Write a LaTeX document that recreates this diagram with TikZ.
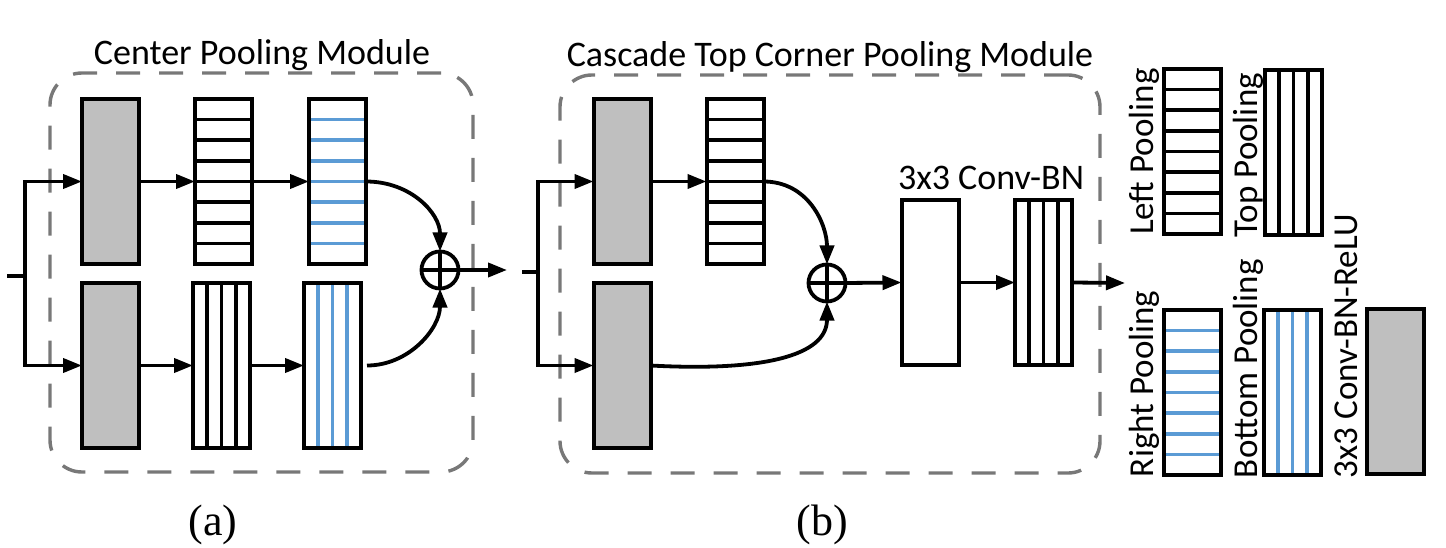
\documentclass[tikz,border=0pt]{standalone}
\usepackage{fontspec}
\setmainfont{Carlito}
\newfontfamily\capfont{Liberation Serif}
\usetikzlibrary{arrows.meta,calc}
\definecolor{poolblue}{RGB}{91,155,213}
\definecolor{boxgray}{RGB}{191,191,191}
\definecolor{framegray}{RGB}{120,120,120}
\begin{document}
\begin{tikzpicture}[x=1pt,y=-1pt,
  every node/.style={inner sep=0pt, outer sep=0pt},
  fmap/.style={draw=black, line width=4pt, minimum width=57pt, minimum height=165pt},
  graybox/.style={fmap, fill=boxgray},
  hlines/.style={path picture={\foreach \i in {1,...,7}{\draw[line width=3.6pt,#1] ($(path picture bounding box.north west)!\i/8!(path picture bounding box.south west)$) -- ($(path picture bounding box.north east)!\i/8!(path picture bounding box.south east)$);}}},
  hlines/.default=black,
  vlines/.style={path picture={\foreach \i in {1,2,3}{\draw[line width=3.6pt,#1] ($(path picture bounding box.north west)!\i/4!(path picture bounding box.north east)$) -- ($(path picture bounding box.south west)!\i/4!(path picture bounding box.south east)$);}}},
  vlines/.default=black,
  arr/.style={line width=3.8pt, -{Triangle[length=19pt,width=14pt]}},
  plain/.style={line width=3.8pt},
  oplus/.style={circle, draw, line width=3.8pt, minimum size=37pt,
    path picture={\draw[line width=3.6pt] (path picture bounding box.north) -- (path picture bounding box.south) (path picture bounding box.west) -- (path picture bounding box.east);}},
  frame/.style={draw=framegray, line width=3.4pt, dash pattern=on 24pt off 19pt, rounded corners=32pt},
  ttl/.style={font=\fontsize{36}{43}\selectfont},
  lbl/.style={font=\fontsize{35}{42}\selectfont, rotate=90, anchor=base west},
  subcap/.style={font=\capfont\fontsize{44}{52}\selectfont}
]
\useasboundingbox (0,0) rectangle (1446,548);

% frames
\node[frame, minimum width=423pt, minimum height=399pt] (modA) at (261.5,272.5) {};
\node[frame, minimum width=540pt, minimum height=398pt] (modB) at (830,274) {};
\node[ttl, anchor=base] (ttlA) at (262,65) {Center Pooling Module};
\node[ttl, anchor=base] (ttlB) at (830,67) {Cascade Top Corner Pooling Module};

% (a) boxes
\node[graybox] (ga1) at (110.5,181.5) {};
\node[fmap, hlines] (ha1) at (223.5,181.5) {};
\node[fmap, hlines=poolblue] (ba1) at (337.5,181.5) {};
\node[graybox] (ga2) at (110.5,365.5) {};
\node[fmap, vlines] (va2) at (221.5,365.5) {};
\node[fmap, vlines=poolblue] (bva2) at (332.5,365.5) {};
\node[oplus] (opa) at (440,270) {};

\coordinate (ina) at (7,276);
\coordinate (ja) at (25,276);
\coordinate (outa) at (507,270);
\draw[plain] (ina) -- (ja);
\draw[arr] (ja) |- (ga1.west);
\draw[arr] (ja) |- (ga2.west);
\draw[arr] (ga1.east) -- (ha1.west);
\draw[arr] (ha1.east) -- (ba1.west);
\draw[arr] (ga2.east) -- (va2.west);
\draw[arr] (va2.east) -- (bva2.west);
\draw[arr] (ba1.east) .. controls +(45,0) and +(0,-38) .. (opa.north);
\draw[arr] ([xshift=6pt]bva2.east) .. controls +(42,0) and +(0,40) .. (opa.south);
\draw[arr] (opa.east) -- (outa);

% (b) boxes
\node[graybox] (gb1) at (622,181.5) {};
\node[fmap, hlines] (hb1) at (735,181.5) {};
\node[graybox] (gb2) at (622,365.5) {};
\node[oplus] (opb) at (827,283) {};
\node[fmap] (conv) at (930,282.5) {};
\node[fmap, vlines] (vb) at (1043.5,282.5) {};
\node[ttl, anchor=base west] (convl) at (898,190) {3x3 Conv-BN};

\coordinate (inb) at (522,272);
\coordinate (jb) at (538,272);
\coordinate (outb) at (1125,283);
\draw[plain] (inb) -- (jb);
\draw[arr] (jb) |- (gb1.west);
\draw[arr] (jb) |- (gb2.west);
\draw[arr] (gb1.east) -- (hb1.west);
\draw[arr] (hb1.east) .. controls +(45,0) and +(0,-40) .. (opb.north);
\draw[arr] (gb2.east) .. controls +(110,6) and +(0,55) .. (opb.south);
\draw[arr] (opb.east) -- (conv.west);
\draw[arr] (conv.east) -- (vb.west);
\draw[arr] (vb.east) -- (outb);

% legend
\node[fmap, hlines] (lp) at (1192.5,151.5) {};
\node[fmap, vlines] (tp) at (1293.5,152.5) {};
\node[fmap, hlines=poolblue] (rp) at (1192,392.5) {};
\node[fmap, vlines=poolblue] (bp) at (1292.5,392.5) {};
\node[graybox] (cbr) at (1395,391) {};
\node[lbl] (lpl) at (1153,235) {Left Pooling};
\node[lbl] (tpl) at (1257,237) {Top Pooling};
\node[lbl] (rpl) at (1153,477) {Right Pooling};
\node[lbl] (bpl) at (1257,478) {Bottom Pooling};
\node[lbl] (cbrl) at (1357,478) {3x3 Conv-BN-ReLU};

% captions
\node[subcap] (capa) at (213,525) {(a)};
\node[subcap] (capb) at (822,525) {(b)};
\end{tikzpicture}
\end{document}
